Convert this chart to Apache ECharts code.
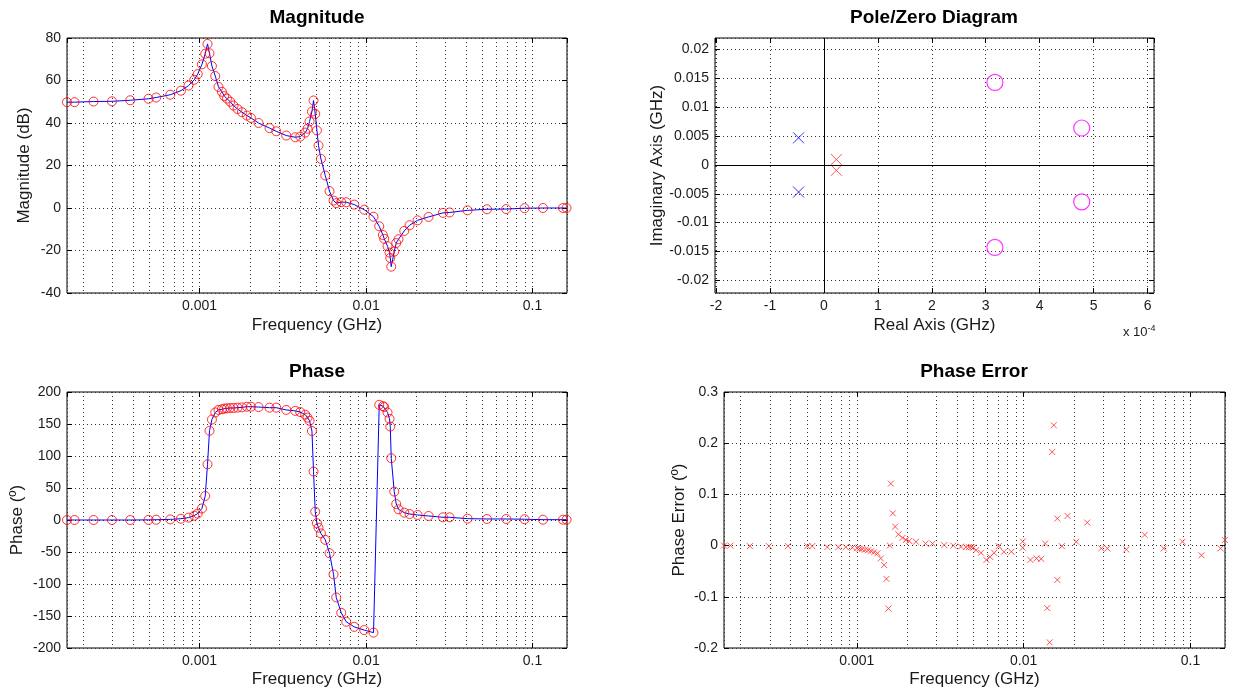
<!DOCTYPE html>
<html><head><meta charset="utf-8">
<script src="https://cdn.jsdelivr.net/npm/echarts@6/dist/echarts.min.js"></script>
<style>html,body{margin:0;padding:0;background:#fff}#c{width:1234px;height:694px}</style>
</head><body><div id="c"></div>
<script>
// ---------- data ----------
const freq = [1.60e-4, 1.775e-4, 2.31e-4, 2.98e-4, 3.835e-4, 4.94e-4, 5.49e-4, 6.67e-4, 7.73e-4, 8.59e-4,
  9.29e-4, 9.75e-4, 1.034e-3, 1.082e-3, 1.117e-3, 1.148e-3, 1.187e-3, 1.243e-3, 1.300e-3, 1.363e-3,
  1.407e-3, 1.461e-3, 1.529e-3, 1.600e-3, 1.691e-3, 1.798e-3, 1.926e-3, 2.035e-3, 2.262e-3, 2.633e-3,
  2.888e-3, 3.317e-3, 3.757e-3, 4.026e-3, 4.314e-3, 4.453e-3, 4.578e-3, 4.733e-3, 4.838e-3, 4.953e-3,
  5.071e-3, 5.184e-3, 5.359e-3, 5.689e-3, 6.037e-3, 6.38e-3, 6.622e-3, 7.097e-3, 7.605e-3,
  8.496e-3, 9.754e-3, 1.109e-2, 1.2e-2, 1.263e-2, 1.286e-2, 1.346e-2, 1.384e-2, 1.398e-2, 1.417e-2,
  1.477e-2, 1.518e-2, 1.567e-2, 1.696e-2, 1.825e-2, 2.039e-2, 2.374e-2, 2.897e-2, 3.174e-2, 4.07e-2,
  5.322e-2, 6.95e-2, 8.954e-2, 0.1155, 0.1523, 0.160];
const magnitude = [49.8, 49.8, 50.1, 50.2, 50.7, 51.4, 52.0, 53.3, 55.2, 57.6,
  60.3, 63.0, 67.6, 72.6, 77.2, 72.8, 66.8, 62.1, 57.0, 54.7,
  52.7, 51.5, 50.0, 48.2, 46.6, 45.1, 43.5, 42.4, 40.0, 37.6,
  36.1, 34.1, 33.3, 33.6, 35.5, 37.3, 40.7, 45.4, 50.6, 44.3,
  36.5, 29.4, 23.1, 15.3, 7.9, 3.5, 2.3, 2.8, 2.7,
  1.6, -0.8, -4.1, -8.6, -12.7, -14.5, -18.0, -21.0, -23.5, -27.6,
  -20.5, -16.5, -14.7, -10.8, -8.1, -5.8, -4.2, -2.3, -2.1, -1.1,
  -0.6, -0.5, -0.1, 0, 0, 0];
const phase = [0, 0, 0, 0, 0, 0.2, 0.4, 1, 2, 3.7,
  6.8, 10, 18, 37.5, 87, 139.5, 157, 168, 172, 173,
  174, 174.5, 175, 175, 175.5, 176, 177, 177, 176.5, 175.5,
  175.5, 172, 170.5, 168.7, 164.5, 160, 155, 139, 75.7, 13,
  -5, -12, -21, -31, -52, -85, -121, -145, -159,
  -167, -172, -176, 180, 178, 176.5, 168, 158, 146, 96.6,
  44.4, 25, 16.7, 11.5, 9.4, 7.8, 6.3, 4.2, 4.2, 2.1,
  1.6, 1.6, 1.2, 0.5, 0.5, 0.5];
const errFreq = [1.6e-4, 1.75e-4, 2.287e-4, 2.973e-4, 3.867e-4, 5.05e-4, 5.41e-4, 6.66e-4, 7.75e-4, 8.59e-4,
  9.41e-4, 1.004e-3, 1.039e-3, 1.076e-3, 1.121e-3, 1.169e-3, 1.219e-3, 1.27e-3, 1.33e-3, 1.393e-3,
  1.459e-3, 1.506e-3, 1.548e-3, 1.578e-3, 1.6e-3, 1.645e-3, 1.698e-3, 1.778e-3, 1.879e-3, 1.969e-3,
  2.061e-3, 2.262e-3, 2.582e-3, 2.844e-3, 3.344e-3, 3.788e-3, 4.215e-3, 4.515e-3, 4.693e-3, 4.858e-3,
  4.995e-3, 5.185e-3, 5.556e-3, 5.98e-3, 6.293e-3, 6.65e-3, 7.088e-3, 7.616e-3, 8.449e-3, 9.876e-3,
  9.876e-3, 1.098e-2, 1.194e-2, 1.274e-2, 1.346e-2, 1.384e-2, 1.433e-2, 1.483e-2, 1.517e-2, 1.592e-2,
  1.592e-2, 1.694e-2, 1.833e-2, 2.067e-2, 2.406e-2, 2.921e-2, 3.174e-2, 4.126e-2, 5.315e-2, 6.914e-2,
  8.954e-2, 0.1164, 0.1514, 0.1607];
const phaseError = [0, 0, -0.001, -0.001, -0.001, -0.001, -0.001, -0.003, -0.003, -0.003,
  -0.004, -0.005, -0.006, -0.007, -0.008, -0.009, -0.011, -0.013, -0.015, -0.025,
  -0.038, -0.065, -0.123, 0, 0.121, 0.063, 0.037, 0.022, 0.015, 0.011,
  0.009, 0.0075, 0.004, 0.004, 0.001, 0, -0.002, -0.003, -0.003, -0.003,
  -0.004, -0.009, -0.014, -0.028, -0.022, -0.014, -0.001, -0.012, -0.012, 0.008,
  -0.004, -0.028, -0.025, -0.026, 0.004, -0.122, -0.189, 0.183, 0.235, 0.053,
  -0.067, -0.001, 0.058, 0.0075, 0.045, -0.0055, -0.0055, -0.0075, 0.021, -0.0055,
  0.0075, -0.019, -0.0055, 0.011];
// pole / zero locations (GHz)
const polesBlueRe = [-0.47e-4, -0.47e-4];
const polesBlueIm = [0.0047, -0.0047];
const polesRedRe = [0.23e-4, 0.23e-4];
const polesRedIm = [0.00095, -0.00095];
const zerosRe = [3.17e-4, 3.17e-4, 4.78e-4, 4.78e-4];
const zerosIm = [0.0143, -0.0143, 0.0064, -0.0064];
// axis settings
const F_MIN = 1.6e-4, F_MAX = 0.161;
const minorGridFreq = [2e-4, 3e-4, 4e-4, 5e-4, 6e-4, 7e-4, 8e-4, 9e-4,
  2e-3, 3e-3, 4e-3, 5e-3, 6e-3, 7e-3, 8e-3, 9e-3,
  2e-2, 3e-2, 4e-2, 5e-2, 6e-2, 7e-2, 8e-2, 9e-2];
const titles = ['Magnitude', 'Pole/Zero Diagram', 'Phase', 'Phase Error'];
const yRanges = [[-40, 80, 20], [-0.0222, 0.022], [-200, 200, 50], [-0.2, 0.3, 0.1]];

// ---------- chart ----------
const FONT = "'Liberation Sans', Arial, sans-serif";
const INK = '#1a1a1a';
const DOT = {color: '#333', width: 1, type: [1, 3]};
const zip = (a, b) => a.map((v, i) => [v, b[i]]);

const grids = [
  {left: 67, top: 38, width: 500, height: 255},
  {left: 715, top: 38, width: 439, height: 255},
  {left: 67, top: 392, width: 500, height: 256},
  {left: 724, top: 392, width: 501, height: 256}
];
grids.forEach(g => { g.show = true; g.borderColor = '#000'; g.borderWidth = 1; g.backgroundColor = '#fff'; });

const tick = {show: true, inside: true, length: 5, lineStyle: {color: '#000', width: 1}};
const lblFmt = v => String(+(+v).toPrecision(4));

function axisPair(g, base, name, nameGap, isX, hideEnds) {
  const main = Object.assign({}, base, {
    gridIndex: g, position: isX ? 'bottom' : 'left',
    axisLine: {show: false, onZero: false}, axisTick: tick,
    axisLabel: {fontFamily: FONT, fontSize: 14, color: INK, margin: 6,
      showMinLabel: !hideEnds, showMaxLabel: !hideEnds, formatter: base.fmt || lblFmt},
    splitLine: {show: true, lineStyle: DOT},
    name: name, nameLocation: 'middle', nameGap: nameGap,
    nameTextStyle: {fontFamily: FONT, fontSize: 17, color: INK}
  });
  delete main.fmt;
  const mirror = Object.assign({}, base, {
    gridIndex: g, position: isX ? 'top' : 'right',
    axisLine: {show: false, onZero: false}, axisTick: tick, axisLabel: {show: false}, splitLine: {show: false}
  });
  delete mirror.fmt;
  return [main, mirror];
}
const logBase = {type: 'log', logBase: 10, min: F_MIN, max: F_MAX};
const yBase = i => yRanges[i][2] !== undefined
  ? {type: 'value', min: yRanges[i][0], max: yRanges[i][1], interval: yRanges[i][2]}
  : {type: 'value', min: yRanges[i][0], max: yRanges[i][1], splitNumber: 9};
const xAxis = [].concat(
  axisPair(0, logBase, 'Frequency (GHz)', 24, true, true),
  axisPair(1, {type: 'value', min: -2.02e-4, max: 6.12e-4, splitNumber: 8, fmt: v => String(Math.round(v * 1e4))}, 'Real Axis (GHz)', 24, true, true),
  axisPair(2, logBase, 'Frequency (GHz)', 23, true, true),
  axisPair(3, logBase, 'Frequency (GHz)', 23, true, true)
);
const yAxis = [].concat(
  axisPair(0, yBase(0), 'Magnitude (dB)', 34, false, false),
  axisPair(1, Object.assign(yBase(1), {fmt: v => String(+(+v).toFixed(4))}), 'Imaginary Axis (GHz)', 45, false, true),
  axisPair(2, yBase(2), 'Phase (º)', 41, false, false),
  axisPair(3, Object.assign(yBase(3), {fmt: v => String(+(+v).toFixed(2))}), 'Phase Error (º)', 36, false, false)
);

// dotted minor grid lines of the log frequency axes, placed through the axis scale
const minorLines = g => ({
  type: 'custom', xAxisIndex: 2 * g, yAxisIndex: 2 * g, silent: true, z: 1,
  data: minorGridFreq.map(v => [v, yRanges[g][0]]),
  encode: {x: 0, y: 1},
  renderItem: (params, api) => {
    const cs = params.coordSys;
    const x = Math.round(api.coord([api.value(0), api.value(1)])[0]) + 0.5;
    return {type: 'line', silent: true,
      shape: {x1: x, y1: cs.y, x2: x, y2: cs.y + cs.height},
      style: {stroke: '#333', lineWidth: 1, lineDash: [1, 3]}};
  }
});
const X_PATH = 'path://M0,0L10,10M10,0L0,10';
const circle = (color, size, bw) => ({symbol: 'circle', symbolSize: size, itemStyle: {color: 'rgba(0,0,0,0)', borderColor: color, borderWidth: bw}});
const cross = (color, size, bw) => ({symbol: X_PATH, symbolSize: size, itemStyle: {color: 'rgba(0,0,0,0)', borderColor: color, borderWidth: bw}});

const series = [
  minorLines(0),
  {type: 'line', xAxisIndex: 0, yAxisIndex: 0, data: zip(freq, magnitude), showSymbol: false, symbol: 'none',
    lineStyle: {color: '#0000ff', width: 1}, z: 3},
  Object.assign({type: 'scatter', xAxisIndex: 0, yAxisIndex: 0, data: zip(freq, magnitude), clip: false, z: 4}, circle('#ff0000', 9, 1)),
  {type: 'line', xAxisIndex: 2, yAxisIndex: 2, data: [], silent: true,
    markLine: {silent: true, symbol: ['none', 'none'], label: {show: false}, animation: false,
      lineStyle: {color: '#000', width: 1, type: 'solid'}, data: [{xAxis: 0}, {yAxis: 0}]}},
  Object.assign({type: 'scatter', xAxisIndex: 2, yAxisIndex: 2, data: zip(polesBlueRe, polesBlueIm), clip: false, z: 4}, cross('#0000ff', 11, 1)),
  Object.assign({type: 'scatter', xAxisIndex: 2, yAxisIndex: 2, data: zip(polesRedRe, polesRedIm), clip: false, z: 4}, cross('#ff3030', 11, 1)),
  Object.assign({type: 'scatter', xAxisIndex: 2, yAxisIndex: 2, data: zip(zerosRe, zerosIm), clip: false, z: 4}, circle('#ff00ff', 16, 1.2)),
  minorLines(2),
  {type: 'line', xAxisIndex: 4, yAxisIndex: 4, data: zip(freq, phase), showSymbol: false, symbol: 'none',
    lineStyle: {color: '#0000ff', width: 1}, z: 3},
  Object.assign({type: 'scatter', xAxisIndex: 4, yAxisIndex: 4, data: zip(freq, phase), clip: false, z: 4}, circle('#ff0000', 9, 1)),
  minorLines(3),
  Object.assign({type: 'scatter', xAxisIndex: 6, yAxisIndex: 6, data: zip(errFreq, phaseError), clip: false, z: 4}, cross('#ff2a2a', 6, 1))
];

const centers = [[317, 18], [934, 18], [317, 372], [974, 372]];
const graphic = titles.map((t, i) => ({type: 'text', x: centers[i][0], y: centers[i][1], silent: true,
  style: {text: t, align: 'center', verticalAlign: 'middle', font: "bold 19px 'Liberation Sans', Arial, sans-serif", fill: '#000'}}));
graphic.push({type: 'text', x: 1123, y: 324, silent: true,
  style: {text: 'x 10{s|-4}', font: "13px 'Liberation Sans', Arial, sans-serif", fill: INK,
    rich: {s: {fontSize: 9, fontFamily: FONT, fill: INK, verticalAlign: 'top', padding: [0, 0, 8, 0]}}}});

const chart = echarts.init(document.getElementById('c'), null, {renderer: 'canvas'});
chart.setOption({animation: false, backgroundColor: '#fff', grid: grids, xAxis, yAxis, series, graphic});
</script></body></html>
